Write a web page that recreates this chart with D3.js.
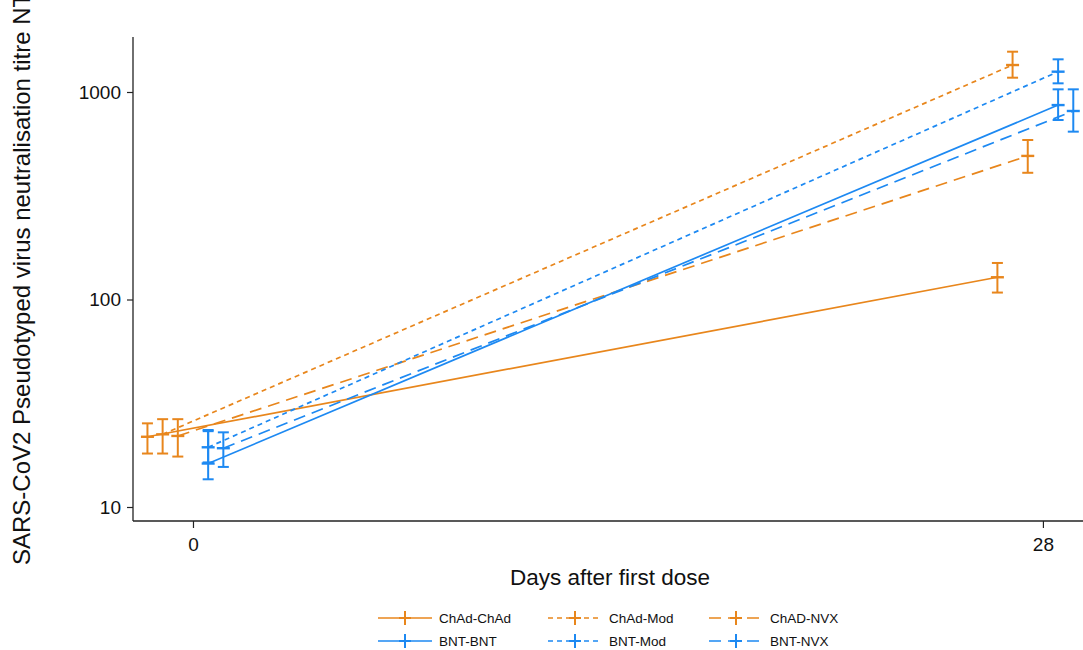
<!DOCTYPE html>
<html>
<head>
<meta charset="utf-8">
<script src="https://cdn.jsdelivr.net/npm/d3@7/dist/d3.min.js"></script>
<style>
  html, body { margin: 0; padding: 0; background: #fff; }
  svg { display: block; font-family: "Liberation Sans", Arial, Helvetica, sans-serif; }
</style>
</head>
<body>
<svg id="chart" width="1083" height="650"></svg>
<script>
// Vaccine schedule groups, in legend order
const groups = ["ChAd-ChAd", "ChAd-Mod", "ChAD-NVX", "BNT-BNT", "BNT-Mod", "BNT-NVX"];
const days = [0, 28];
const xTicks = [0, 28];
const yTicks = [10, 100, 1000];

// Geometric mean titres with 95% CI, day 0
const gmtDay0  = [21.8, 22.4, 22.0, 16.2, 19.4, 19.2];
const lowDay0  = [18.1, 18.1, 17.5, 13.6, 16.4, 15.6];
const highDay0 = [25.3, 26.5, 26.5, 23.5, 23.2, 22.9];

// Geometric mean titres with 95% CI, day 28
const gmtDay28  = [128, 1349, 492, 865, 1253, 810];
const lowDay28  = [108, 1172, 408, 733, 1101, 644];
const highDay28 = [150, 1564, 587, 1030, 1437, 1030];

// Horizontal dodge (days) so the groups do not overlap
const dodge = [-1.5, -1, -0.5, 0.5, 0.5, 1];

const ORANGE = "#e8861c";
const BLUE = "#1d89f2";
const colors = [ORANGE, ORANGE, ORANGE, BLUE, BLUE, BLUE];
const dashes = [null, "5,4", "12,7", null, "5,4", "12,7"];

const svg = d3.select("#chart");
const plot = { left: 133, right: 1083, top: 37, bottom: 521 };

const x = d3.scaleLinear()
  .domain([-1.976, 29.32])
  .range([plot.left, plot.right]);

// log scale: one decade ≈ 207.5 px, 1000 sits at y = 92
const decade = 207.5;
const yTopVal = Math.pow(10, 3 + (92 - plot.top) / decade);
const yBotVal = Math.pow(10, 3 - (plot.bottom - 92) / decade);
const y = d3.scaleLog()
  .domain([yBotVal, yTopVal])
  .range([plot.bottom, plot.top]);

const series = groups.map((g, i) => ({
  name: g,
  color: colors[i],
  dash: dashes[i],
  pts: [
    { day: days[0], v: gmtDay0[i], lo: lowDay0[i], hi: highDay0[i] },
    { day: days[1], v: gmtDay28[i], lo: lowDay28[i], hi: highDay28[i] }
  ].map(p => Object.assign(p, { xd: p.day + dodge[i] }))
}));

// Axes
const yAxis = d3.axisLeft(y).tickValues(yTicks).tickFormat(d3.format("d")).tickSize(6).tickPadding(6);
const gy = svg.append("g").attr("transform", `translate(${plot.left},0)`).call(yAxis);
gy.select(".domain").attr("d", `M0,${plot.top}V${plot.bottom}`);

const xAxis = d3.axisBottom(x).tickValues(xTicks).tickSize(7).tickPadding(10);
const gx = svg.append("g").attr("transform", `translate(0,${plot.bottom})`).call(xAxis);
gx.select(".domain").attr("d", `M${plot.left},0H${plot.right}`);

[gx, gy].forEach(g => {
  g.select(".domain").attr("stroke", "#222").attr("stroke-width", 1.3);
  g.selectAll(".tick line").attr("stroke", "#222").attr("stroke-width", 1.2);
  g.selectAll(".tick text").attr("fill", "#111").style("font-size", "19px")
    .style("font-family", "'Liberation Sans', Arial, sans-serif");
});

// Axis titles
svg.append("text")
  .attr("x", (plot.left + plot.right) / 2 + 2)
  .attr("y", 585)
  .attr("text-anchor", "middle")
  .style("font-size", "22.5px")
  .attr("fill", "#111")
  .text("Days after first dose");

svg.append("text")
  .attr("transform", `translate(30,565) rotate(-90)`)
  .attr("text-anchor", "start")
  .style("font-size", "24px")
  .attr("fill", "#111")
  .text("SARS-CoV2 Pseudotyped virus neutralisation titre NT50");

// Connecting lines
const line = d3.line().x(p => x(p.xd)).y(p => y(p.v));
const gLines = svg.append("g");
series.forEach(s => {
  gLines.append("path")
    .attr("d", line(s.pts))
    .attr("fill", "none")
    .attr("stroke", s.color)
    .attr("stroke-width", 1.7)
    .attr("stroke-dasharray", s.dash);
});

// Error bars with caps and "+" markers
const cap = 5.5;
const gBars = svg.append("g");
series.forEach(s => {
  s.pts.forEach(p => {
    const cx = x(p.xd);
    const g = gBars.append("g").attr("stroke", s.color).attr("stroke-width", 2).attr("fill", "none");
    g.append("line").attr("x1", cx).attr("x2", cx).attr("y1", y(p.lo)).attr("y2", y(p.hi));
    g.append("line").attr("x1", cx - cap).attr("x2", cx + cap).attr("y1", y(p.lo)).attr("y2", y(p.lo));
    g.append("line").attr("x1", cx - cap).attr("x2", cx + cap).attr("y1", y(p.hi)).attr("y2", y(p.hi));
    g.append("line").attr("x1", cx - 6.5).attr("x2", cx + 6.5).attr("y1", y(p.v)).attr("y2", y(p.v))
      .attr("stroke-width", 2.4);
  });
});

// Legend: 3 columns x 2 rows
const legCols = [378, 548, 709];
const legRows = [618, 641];
const gLeg = svg.append("g");
series.forEach((s, i) => {
  const lx = legCols[i % 3], ly = legRows[Math.floor(i / 3)];
  const g = gLeg.append("g").attr("transform", `translate(${lx},${ly})`);
  g.append("line").attr("x1", 0).attr("x2", 54).attr("y1", 0).attr("y2", 0)
    .attr("stroke", s.color).attr("stroke-width", 1.7).attr("stroke-dasharray", s.dash);
  g.append("line").attr("x1", 27).attr("x2", 27).attr("y1", -7).attr("y2", 7)
    .attr("stroke", s.color).attr("stroke-width", 2);
  g.append("line").attr("x1", 21).attr("x2", 33).attr("y1", 0).attr("y2", 0)
    .attr("stroke", s.color).attr("stroke-width", 2);
  g.append("text").attr("x", 61).attr("y", 0).attr("dy", "0.36em")
    .style("font-size", "13.5px").attr("fill", "#111").text(s.name);
});
</script>
</body>
</html>
